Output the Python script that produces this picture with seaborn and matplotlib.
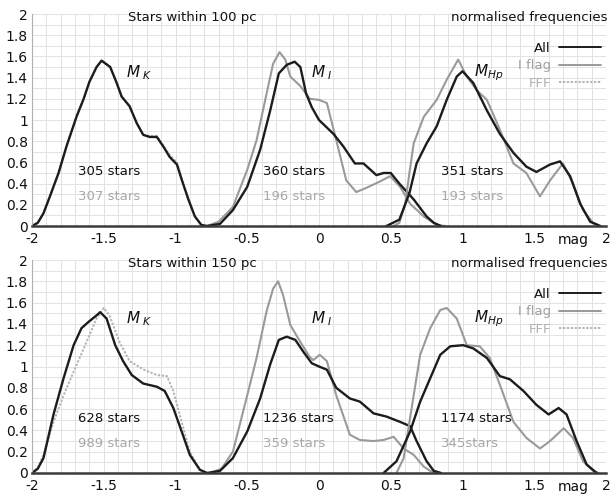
import numpy as np
import pandas as pd
import seaborn as sns
import matplotlib
matplotlib.use("Agg")
import matplotlib.pyplot as plt
from matplotlib.lines import Line2D
from matplotlib.ticker import MultipleLocator
import matplotlib.transforms as mtransforms

# ---------------- data ----------------
# Stars within 100 pc
k100_all_x = [-2.00, -1.96, -1.92, -1.875, -1.815, -1.76, -1.69, -1.64, -1.60, -1.55, -1.515, -1.455, -1.41,
              -1.375, -1.32, -1.27, -1.225, -1.18, -1.13, -1.085, -1.04, -0.99, -0.955, -0.91, -0.865, -0.82, -0.78]
k100_all_y = [0.0, 0.03, 0.12, 0.28, 0.50, 0.75, 1.03, 1.20, 1.36, 1.50, 1.56, 1.50, 1.35,
              1.22, 1.13, 0.97, 0.86, 0.84, 0.84, 0.75, 0.65, 0.58, 0.43, 0.25, 0.09, 0.01, 0.0]
k100_fff_x = k100_all_x
k100_fff_y = [0.0, 0.03, 0.12, 0.28, 0.50, 0.75, 1.03, 1.20, 1.36, 1.50, 1.56, 1.50, 1.35,
              1.22, 1.13, 0.97, 0.86, 0.85, 0.85, 0.76, 0.67, 0.60, 0.44, 0.25, 0.09, 0.01, 0.0]

i100_all_x = [-0.78, -0.69, -0.60, -0.50, -0.41, -0.34, -0.28, -0.225, -0.17, -0.13, -0.09, -0.05, 0.0,
              0.10, 0.17, 0.25, 0.31, 0.40, 0.45, 0.50, 0.56, 0.66, 0.75, 0.80, 0.85]
i100_all_y = [0.0, 0.02, 0.15, 0.37, 0.72, 1.09, 1.44, 1.52, 1.55, 1.50, 1.25, 1.12, 1.0,
              0.87, 0.75, 0.59, 0.59, 0.48, 0.50, 0.50, 0.40, 0.25, 0.09, 0.03, 0.0]
i100_flag_x = [-0.78, -0.70, -0.60, -0.50, -0.435, -0.365, -0.32, -0.275, -0.235, -0.20, -0.13, -0.065, 0.0,
               0.055, 0.12, 0.19, 0.26, 0.33, 0.425, 0.495, 0.565, 0.635, 0.73, 0.82, 0.88]
i100_flag_y = [0.0, 0.04, 0.18, 0.53, 0.81, 1.25, 1.53, 1.64, 1.57, 1.41, 1.32, 1.20, 1.19,
               1.16, 0.81, 0.43, 0.32, 0.36, 0.42, 0.47, 0.37, 0.21, 0.09, 0.01, 0.0]

h100_all_x = [0.47, 0.56, 0.63, 0.68, 0.75, 0.82, 0.89, 0.96, 1.0, 1.075, 1.17, 1.26, 1.355, 1.445,
              1.515, 1.61, 1.68, 1.75, 1.82, 1.89, 1.96]
h100_all_y = [0.0, 0.06, 0.31, 0.59, 0.78, 0.94, 1.19, 1.41, 1.46, 1.35, 1.09, 0.87, 0.69, 0.56,
              0.51, 0.58, 0.61, 0.47, 0.21, 0.04, 0.0]
h100_flag_x = [0.52, 0.56, 0.60, 0.63, 0.66, 0.73, 0.82, 0.89, 0.97, 1.03, 1.10, 1.17, 1.26, 1.355,
               1.445, 1.54, 1.61, 1.70, 1.77, 1.84, 1.91, 1.96]
h100_flag_y = [0.0, 0.03, 0.20, 0.50, 0.78, 1.03, 1.19, 1.38, 1.57, 1.41, 1.28, 1.19, 0.91, 0.59,
               0.50, 0.28, 0.43, 0.59, 0.40, 0.15, 0.03, 0.0]

# Stars within 150 pc
k150_all_x = [-2.00, -1.96, -1.92, -1.85, -1.78, -1.71, -1.655, -1.605, -1.55, -1.525, -1.48, -1.42, -1.365,
              -1.305, -1.225, -1.13, -1.075, -1.015, -0.957, -0.90, -0.83, -0.78]
k150_all_y = [0.0, 0.04, 0.14, 0.55, 0.89, 1.20, 1.36, 1.42, 1.48, 1.51, 1.45, 1.20, 1.05,
              0.92, 0.84, 0.81, 0.77, 0.61, 0.39, 0.17, 0.03, 0.0]
k150_fff_x = [-2.00, -1.96, -1.92, -1.85, -1.78, -1.71, -1.62, -1.55, -1.50, -1.46, -1.39, -1.32, -1.22,
              -1.13, -1.06, -1.015, -0.957, -0.90, -0.83, -0.78]
k150_fff_y = [0.0, 0.05, 0.17, 0.48, 0.73, 0.95, 1.23, 1.45, 1.55, 1.48, 1.23, 1.05, 0.97,
              0.92, 0.91, 0.77, 0.48, 0.20, 0.03, 0.0]

i150_all_x = [-0.78, -0.69, -0.60, -0.50, -0.41, -0.34, -0.28, -0.225, -0.165, -0.11, -0.05, 0.0, 0.055,
              0.12, 0.215, 0.285, 0.38, 0.47, 0.565, 0.635, 0.68, 0.75, 0.80, 0.85]
i150_all_y = [0.0, 0.02, 0.14, 0.39, 0.70, 1.02, 1.25, 1.28, 1.25, 1.14, 1.03, 1.0, 0.97,
              0.80, 0.70, 0.67, 0.56, 0.53, 0.48, 0.44, 0.30, 0.11, 0.02, 0.0]
i150_flag_x = [-0.76, -0.68, -0.60, -0.50, -0.435, -0.365, -0.32, -0.285, -0.25, -0.20, -0.13, -0.065, -0.04,
               0.005, 0.055, 0.12, 0.215, 0.285, 0.38, 0.45, 0.52, 0.59, 0.66, 0.73, 0.775, 0.82]
i150_flag_y = [0.0, 0.04, 0.20, 0.73, 1.08, 1.52, 1.73, 1.80, 1.67, 1.39, 1.23, 1.09, 1.06,
               1.11, 1.05, 0.73, 0.36, 0.31, 0.30, 0.31, 0.34, 0.23, 0.17, 0.06, 0.02, 0.0]

h150_all_x = [0.45, 0.54, 0.635, 0.705, 0.775, 0.845, 0.915, 1.005, 1.075, 1.17, 1.26, 1.33, 1.425,
              1.515, 1.60, 1.67, 1.725, 1.795, 1.865, 1.935]
h150_all_y = [0.0, 0.11, 0.39, 0.67, 0.89, 1.11, 1.19, 1.20, 1.17, 1.08, 0.91, 0.88, 0.77,
              0.64, 0.55, 0.61, 0.55, 0.30, 0.08, 0.0]
h150_flag_x = [0.54, 0.59, 0.635, 0.705, 0.775, 0.845, 0.89, 0.96, 1.03, 1.12, 1.19, 1.26, 1.355,
               1.445, 1.54, 1.61, 1.705, 1.77, 1.84, 1.91, 1.95]
h150_flag_y = [0.0, 0.14, 0.52, 1.11, 1.36, 1.53, 1.55, 1.45, 1.20, 1.19, 1.08, 0.83, 0.48,
               0.33, 0.23, 0.30, 0.42, 0.33, 0.11, 0.02, 0.0]

titles = ["Stars within 100 pc", "Stars within 150 pc"]
counts_all = [["305 stars", "360 stars", "351 stars"], ["628 stars", "1236 stars", "1174 stars"]]
counts_cmp = [["307 stars", "196 stars", "193 stars"], ["989 stars", "359 stars", "345stars"]]
band_labels = [r"$M_{\ K}$", r"$M_{\ I}$", r"$M_{Hp}$"]
x_ticks = [-2, -1.5, -1, -0.5, 0, 0.5, 1, 1.5, 2]
x_tick_labels = ["-2", "-1.5", "-1", "-0.5", "0", "0.5", "1", "1.5", "2"]
y_ticks = [0, 0.2, 0.4, 0.6, 0.8, 1, 1.2, 1.4, 1.6, 1.8, 2]
y_tick_labels = ["0", "0.2", "0.4", "0.6", "0.8", "1", "1.2", "1.4", "1.6", "1.8", "2"]
legend_labels = ["All", "I flag", "FFF"]

panels = [
    [(k100_fff_x, k100_fff_y, "FFF"), (k100_all_x, k100_all_y, "All"),
     (i100_flag_x, i100_flag_y, "I flag"), (i100_all_x, i100_all_y, "All"),
     (h100_flag_x, h100_flag_y, "I flag"), (h100_all_x, h100_all_y, "All")],
    [(k150_fff_x, k150_fff_y, "FFF"), (k150_all_x, k150_all_y, "All"),
     (i150_flag_x, i150_flag_y, "I flag"), (i150_all_x, i150_all_y, "All"),
     (h150_flag_x, h150_flag_y, "I flag"), (h150_all_x, h150_all_y, "All")],
]

# ---------------- styling ----------------
sns.set_theme(style="white")
plt.rcParams["font.family"] = ["DejaVu Sans"]
plt.rcParams["mathtext.fontset"] = "dejavusans"

C_ALL = "#1c1c1c"
C_FLAG = "#9a9a9a"
C_FFF = "#b4b4b4"
styles = {
    "All": dict(color=C_ALL, linewidth=1.7, linestyle="-"),
    "I flag": dict(color=C_FLAG, linewidth=1.5, linestyle="-"),
    "FFF": dict(color=C_FFF, linewidth=1.4, linestyle=(0, (1.2, 0.8))),
}
text_colors = {"All": "#111111", "I flag": "#a0a0a0", "FFF": "#b0b0b0"}

fig = plt.figure(figsize=(6.11, 4.97), dpi=100)
W, H = 611, 497
ax_top = fig.add_axes([32 / W, 1 - 226 / H, 574 / W, 212 / H])
ax_bot = fig.add_axes([32 / W, 1 - 473 / H, 574 / W, 213 / H])

for p, ax in enumerate([ax_top, ax_bot]):
    for xs, ys, kind in panels[p]:
        df = pd.DataFrame({"mag": xs, "freq": ys})
        sns.lineplot(data=df, x="mag", y="freq", ax=ax, sort=False, estimator=None,
                     **styles[kind])
    ax.set_xlim(-2, 2)
    ax.set_ylim(0, 2)
    ax.set_xticks(x_ticks)
    ax.set_xticklabels(x_tick_labels)
    ax.set_yticks(y_ticks)
    ax.set_yticklabels(y_tick_labels)
    ax.xaxis.set_minor_locator(MultipleLocator(0.1))
    ax.yaxis.set_minor_locator(MultipleLocator(0.1))
    ax.grid(True, which="both", color="#e2e2e2", linewidth=0.7)
    ax.set_axisbelow(True)
    ax.tick_params(axis="both", which="both", length=0, labelsize=10, colors="#111111")
    ax.tick_params(axis="x", pad=4)
    ax.tick_params(axis="y", pad=3)
    ax.set_xlabel("")
    ax.set_ylabel("")
    for s in ["top", "right"]:
        ax.spines[s].set_visible(False)
    ax.spines["left"].set_color("#b0b0b0")
    ax.spines["left"].set_linewidth(0.8)
    ax.spines["bottom"].set_color("#3a3a3a")
    ax.spines["bottom"].set_linewidth(1.8)
    ax.spines["bottom"].set_zorder(5)

    ax.text(0.28, 0.985, titles[p], transform=ax.transAxes, ha="center", va="center",
            fontsize=9.5, color="#111111")
    ax.text(1.003, 0.985, "normalised frequencies", transform=ax.transAxes, ha="right",
            va="center", fontsize=9.5, color="#111111")
    trans = mtransforms.blended_transform_factory(ax.transData, ax.transAxes)
    ax.text(1.77, -0.065, "mag", transform=trans, ha="center", va="center",
            fontsize=10, color="#111111")

    band_x = [-1.25, 0.02, 1.18]
    for b in range(3):
        ax.text(band_x[b], 1.45, band_labels[b], ha="center", va="center",
                fontsize=11, color="#111111")
    count_x = [-1.68, -0.39, 0.85]
    for b in range(3):
        ax.text(count_x[b], 0.51, counts_all[p][b], ha="left", va="center",
                fontsize=9.5, color="#111111")
        ax.text(count_x[b], 0.275, counts_cmp[p][b], ha="left", va="center",
                fontsize=9.5, color="#a8a8a8")

    handles = [Line2D([], [], **styles[k]) for k in legend_labels]
    for h in handles:
        h.set_linewidth(min(h.get_linewidth(), 1.4))
    leg = ax.legend(handles, legend_labels, loc="upper right", bbox_to_anchor=(1.012, 0.925),
                    frameon=False, markerfirst=False, handlelength=3.2, handletextpad=0.6,
                    labelspacing=0.35, fontsize=9.5)
    for t, k in zip(leg.get_texts(), legend_labels):
        t.set_color(text_colors[k])

fig.savefig("out.png", dpi=100)
